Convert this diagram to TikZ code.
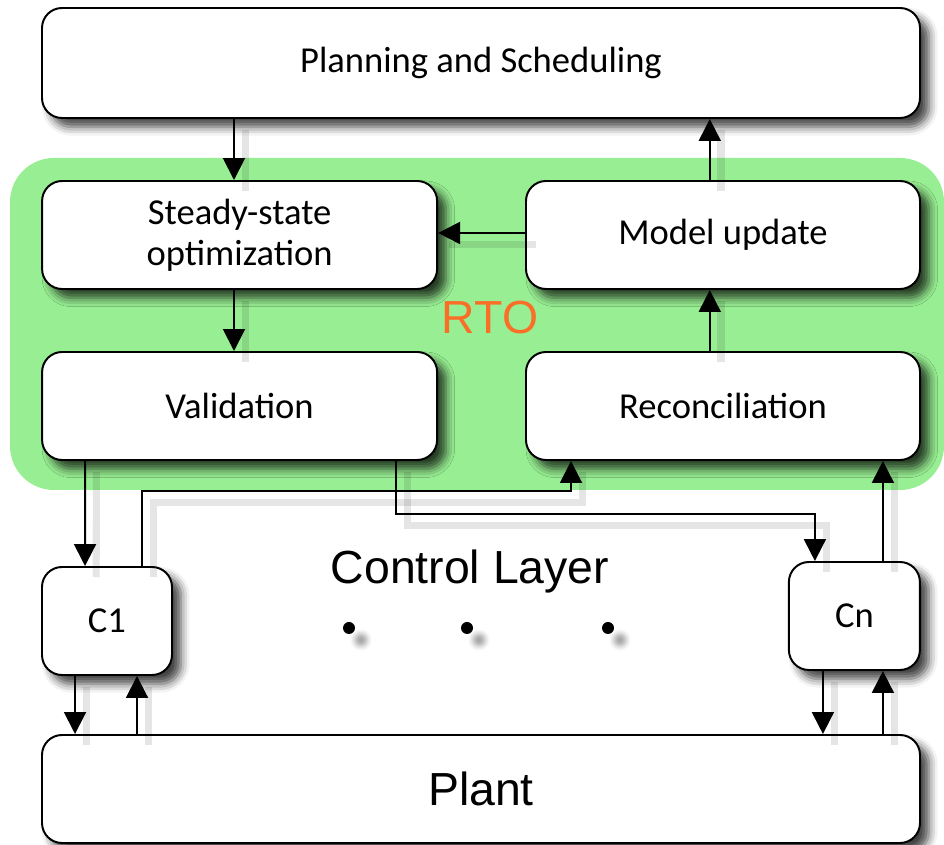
\documentclass[tikz,border=0pt]{standalone}
\usepackage{fontspec}
\setmainfont{Carlito}
\newfontfamily\arialfont{Liberation Sans}
\usetikzlibrary{arrows.meta,shadows.blur}

\definecolor{rtogreen}{RGB}{152,238,146}
\definecolor{rtoorange}{RGB}{250,110,40}

\tikzset{
    box/.style={rectangle, draw, line width=1.4pt, rounded corners=0.5cm,
        fill=white, align=center, font=\fontsize{26}{31}\selectfont,
        blur shadow={shadow xshift=0.22cm, shadow yshift=-0.22cm,
            shadow blur radius=0.22cm, shadow opacity=75}},
    wire/.style={line width=1.4pt,
        arrows={-Triangle[length=0.55cm, width=0.55cm]},
        preaction={draw=black, opacity=0.1, line width=5pt, arrows={-},
            transform canvas={xshift=0.28cm, yshift=-0.28cm}}},
    bigtext/.style={font=\arialfont\fontsize{33}{40}\selectfont}
}

\begin{document}
\begin{tikzpicture}
    \useasboundingbox (0,0) rectangle (23.6,21.125);
    % RTO layer
    \fill[rtogreen, rounded corners=1.1cm] (0.25,8.875) rectangle (23.6,17.175);
    \node[bigtext, text=rtoorange] (rto) at (12.25,13.175) {RTO};

    \node[box, minimum width=21.95cm, minimum height=2.75cm] (plan) at (12.025,19.55)
        {Planning and Scheduling};
    \node[box, minimum width=9.875cm, minimum height=2.7cm] (steady) at (5.99,15.25)
        {Steady-state\\[-2pt]optimization};
    \node[box, minimum width=9.85cm, minimum height=2.7cm] (model) at (18.075,15.25)
        {Model update};
    \node[box, minimum width=9.875cm, minimum height=2.7cm] (valid) at (5.99,10.975)
        {Validation};
    \node[box, minimum width=9.85cm, minimum height=2.7cm] (recon) at (18.075,10.975)
        {Reconciliation};

    % control layer
    \node[bigtext] (ctrl) at (11.75,6.825) {Control Layer};
    \node[box, minimum width=3.25cm, minimum height=2.7cm] (c1) at (2.675,5.6) {C1};
    \node[box, minimum width=3.275cm, minimum height=2.7cm] (cn) at (21.36,5.725) {Cn};
    \foreach \x/\n in {8.725/1, 11.675/2, 15.2/3}
        \node[circle, fill, inner sep=0pt, minimum size=0.3cm,
            blur shadow={shadow xshift=0.3cm, shadow yshift=-0.3cm,
            shadow blur radius=0.12cm, shadow opacity=35}] (dot\n) at (\x,5.425) {};

    \node[box, minimum width=21.95cm, minimum height=2.7cm,
        font=\arialfont\fontsize{33}{40}\selectfont] (plant) at (12.025,1.4) {Plant};

    % RTO loop
    \draw[wire] ([xshift=-0.14cm]steady.north |- plan.south) -- ([xshift=-0.14cm]steady.north);
    \draw[wire] ([xshift=-0.14cm]steady.south) -- ([xshift=-0.14cm]valid.north);
    \draw[wire] ([xshift=-0.33cm]model.north) -- ([xshift=-0.33cm]model.north |- plan.south);
    \draw[wire] ([yshift=0.05cm]model.west) -- ([yshift=0.05cm]steady.east);
    \draw[wire] ([xshift=-0.33cm]recon.north) -- ([xshift=-0.33cm]model.south);

    % setpoints and measurements
    \draw[wire] ([xshift=1.1cm]valid.south west) -- ([xshift=1.1cm]c1.north west);
    \draw[wire] ([xshift=2.525cm]c1.north west) -- ++(0,1.875)
        -| ([xshift=1.15cm]recon.south west);
    \draw[wire] ([xshift=8.875cm]valid.south west) -- ++(0,-1.325)
        -| ([xshift=0.675cm]cn.north west);
    \draw[wire] ([xshift=2.375cm]cn.north west) -- ([xshift=2.375cm]cn.north west |- recon.south);

    % plant loops
    \draw[wire] ([xshift=0.85cm]c1.south west) -- ([xshift=0.85cm]c1.south west |- plant.north);
    \draw[wire] ([xshift=2.4cm]c1.south west |- plant.north) -- ([xshift=2.4cm]c1.south west);
    \draw[wire] ([xshift=0.875cm]cn.south west) -- ([xshift=0.875cm]cn.south west |- plant.north);
    \draw[wire] ([xshift=2.375cm]cn.south west |- plant.north) -- ([xshift=2.375cm]cn.south west);
\end{tikzpicture}
\end{document}
